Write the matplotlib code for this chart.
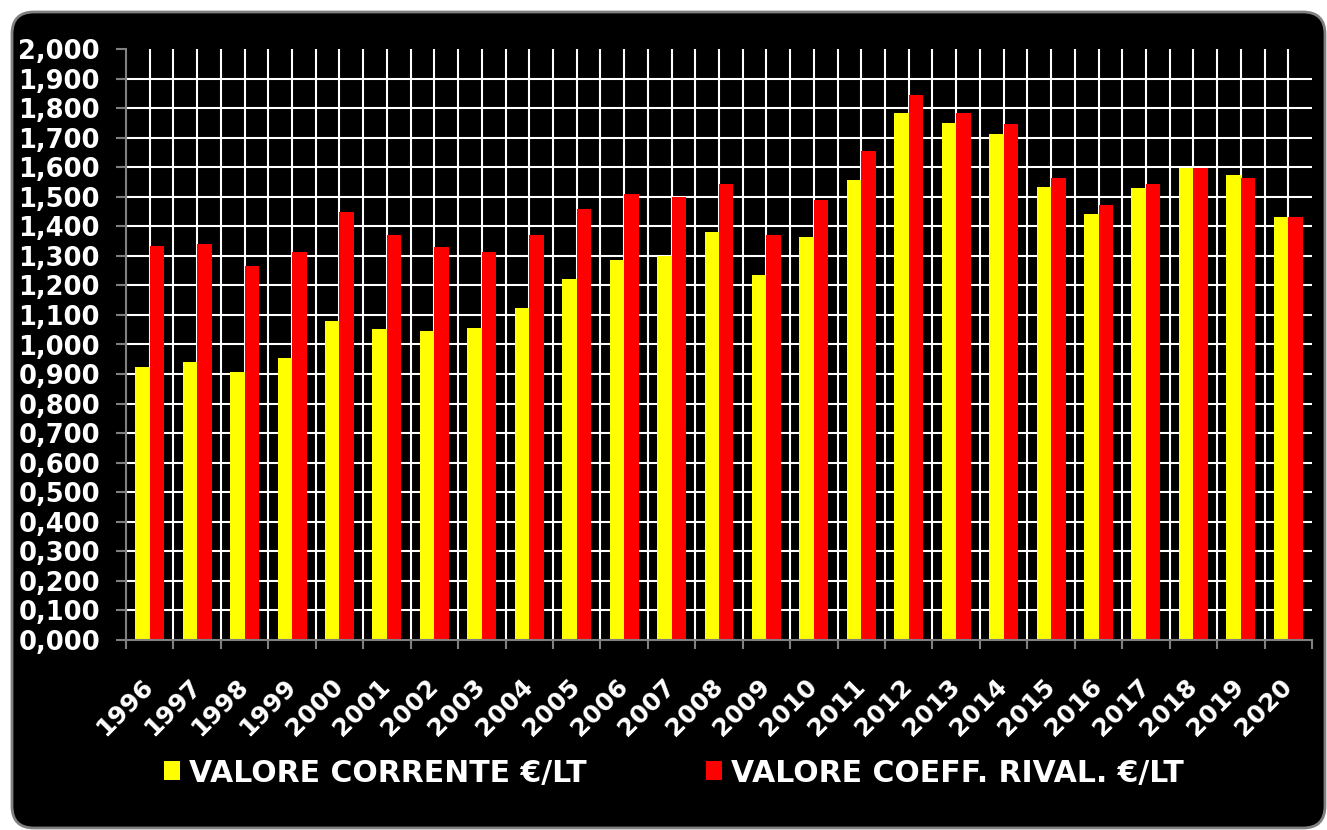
import matplotlib
matplotlib.use("Agg")
import matplotlib.pyplot as plt
import matplotlib.patches as mpatches
import matplotlib.transforms as mtransforms
import numpy as np

# Dati
anni = ["1996", "1997", "1998", "1999", "2000", "2001", "2002", "2003", "2004",
        "2005", "2006", "2007", "2008", "2009", "2010", "2011", "2012", "2013",
        "2014", "2015", "2016", "2017", "2018", "2019", "2020"]
valore_corrente = [0.924, 0.941, 0.907, 0.954, 1.080, 1.052, 1.046, 1.056, 1.124,
                   1.222, 1.286, 1.299, 1.381, 1.235, 1.364, 1.557, 1.783, 1.750,
                   1.712, 1.533, 1.442, 1.530, 1.597, 1.574, 1.431]
valore_rival = [1.333, 1.340, 1.266, 1.313, 1.448, 1.371, 1.330, 1.313, 1.371,
                1.459, 1.509, 1.499, 1.543, 1.371, 1.489, 1.655, 1.844, 1.783,
                1.746, 1.563, 1.472, 1.543, 1.597, 1.563, 1.431]
nomi_serie = ["VALORE CORRENTE €/LT", "VALORE COEFF. RIVAL. €/LT"]
y_ticks = [i / 10 for i in range(21)]

GIALLO = "#FFFF00"
ROSSO = "#FF0000"
GRIGIO = "#808080"

plt.rcParams["font.family"] = ["DejaVu Sans"]

fig = plt.figure(figsize=(13.27, 8.30), dpi=100, facecolor="white")

# riquadro nero arrotondato dietro al grafico
sfondo = mpatches.FancyBboxPatch((12, 2), 1313, 816,
                                 boxstyle="round,pad=0,rounding_size=22",
                                 facecolor="black", edgecolor=GRIGIO, linewidth=2,
                                 transform=mtransforms.IdentityTransform(), zorder=0)
fig.add_artist(sfondo)

ax = fig.add_axes([126 / 1327, 1 - 640 / 830, 1186 / 1327, 591 / 830])
ax.set_facecolor("black")
ax.set_axisbelow(True)

x = np.arange(len(anni))
w = 0.305
ax.bar(x - w / 2, valore_corrente, width=w, color=GIALLO, label=nomi_serie[0], zorder=2)
ax.bar(x + w / 2, valore_rival, width=w, color=ROSSO, label=nomi_serie[1], zorder=2)

ax.set_xlim(-0.5, len(anni) - 0.5)
ax.set_ylim(0, 2.0)

# asse y
ax.set_yticks(y_ticks)
ax.set_yticklabels([f"{v:.3f}".replace(".", ",") for v in y_ticks])
ax.tick_params(axis="y", which="major", direction="out", length=7.2, width=1.5,
               color=GRIGIO, pad=11.5, labelcolor="white", labelsize=18.5)
for t in ax.get_yticklabels():
    t.set_fontweight("bold")

# asse x: etichette al centro, tacche ai bordi delle categorie
ax.set_xticks(x)
ax.set_xticklabels(anni, rotation=45, ha="right", va="center", rotation_mode="anchor")
ax.set_xticks(np.arange(len(anni) + 1) - 0.5, minor=True)
ax.tick_params(axis="x", which="major", length=0, pad=31, labelcolor="white",
               labelsize=18)
ax.tick_params(axis="x", which="minor", direction="out", length=6.5, width=1.5,
               color=GRIGIO)
for t in ax.get_xticklabels():
    t.set_fontweight("bold")

# griglia bianca
ax.grid(True, axis="y", which="major", color="white", linewidth=1.5)
ax.grid(True, axis="x", which="both", color="white", linewidth=1.5)
ax.yaxis.get_gridlines()[-1].set_visible(False)
ax.yaxis.get_gridlines()[0].set_visible(False)
ax.xaxis.get_minor_ticks()[-1].gridline.set_visible(False)
ax.xaxis.get_minor_ticks()[0].gridline.set_visible(False)

for side in ["top", "right"]:
    ax.spines[side].set_visible(False)
for side in ["left", "bottom"]:
    ax.spines[side].set_color(GRIGIO)
    ax.spines[side].set_linewidth(1.5)
    ax.spines[side].set_zorder(3)

# legenda in basso
handles = [mpatches.Patch(facecolor=GIALLO), mpatches.Patch(facecolor=ROSSO)]
leg = fig.legend(handles, nomi_serie, loc="center left",
                 bbox_to_anchor=(164 / 1327, 1 - 773 / 830), ncol=2, frameon=False,
                 borderpad=0, borderaxespad=0, handlelength=0.55, handleheight=0.6,
                 handletextpad=0.28, columnspacing=4.0,
                 prop={"size": 21.5, "weight": "bold"})
for t in leg.get_texts():
    t.set_color("white")

fig.savefig("out.png", dpi=100, facecolor="white")
